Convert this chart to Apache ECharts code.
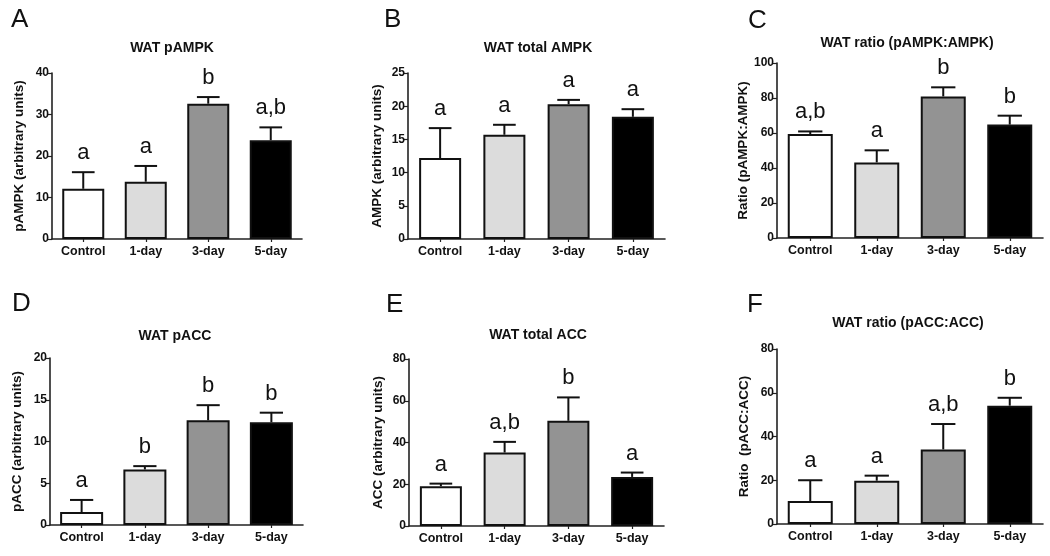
<!DOCTYPE html>
<html>
<head>
<meta charset="utf-8">
<script src="https://cdn.jsdelivr.net/npm/echarts@6/dist/echarts.min.js"></script>
<style>
html,body{margin:0;padding:0;background:#fff;}
#chart{width:1050px;height:556px;}
</style>
</head>
<body>
<div id="chart"></div>
<script>
// ---------- data ----------
const categories = ['Control', '1-day', '3-day', '5-day'];
const barColors = ['#ffffff', '#dcdcdc', '#939393', '#000000'];

const panelLetters = ['A', 'B', 'C', 'D', 'E', 'F'];
const panelTitles = ['WAT pAMPK', 'WAT total AMPK', 'WAT ratio (pAMPK:AMPK)',
                     'WAT pACC', 'WAT total ACC', 'WAT ratio (pACC:ACC)'];
const yNames = ['pAMPK (arbitrary units)', 'AMPK (arbitrary units)', 'Ratio (pAMPK:AMPK)',
                'pACC (arbitrary units)', 'ACC (arbitrary units)', 'Ratio  (pACC:ACC)'];
const yMax = [40, 25, 100, 20, 80, 80];
const yStep = [10, 5, 20, 5, 20, 20];

const pampkMean = [12.1, 13.8, 32.6, 23.8];
const pampkErr  = [4.0, 3.8, 1.6, 3.1];
const pampkSig  = ['a', 'a', 'b', 'a,b'];

const ampkMean = [12.2, 15.7, 20.3, 18.4];
const ampkErr  = [4.5, 1.5, 0.65, 1.15];
const ampkSig  = ['a', 'a', 'a', 'a'];

const ampkRatioMean = [59.4, 43.2, 80.9, 64.8];
const ampkRatioErr  = [1.5, 6.9, 5.2, 5.1];
const ampkRatioSig  = ['a,b', 'a', 'b', 'b'];

const paccMean = [1.55, 6.65, 12.55, 12.3];
const paccErr  = [1.45, 0.4, 1.8, 1.15];
const paccSig  = ['a', 'b', 'b', 'b'];

const accMean = [19.1, 35.2, 50.4, 23.5];
const accErr  = [1.2, 5.1, 11.2, 2.1];
const accSig  = ['a', 'a,b', 'b', 'a'];

const accRatioMean = [10.5, 19.8, 34.1, 54.1];
const accRatioErr  = [9.5, 2.3, 11.6, 3.6];
const accRatioSig  = ['a', 'a', 'a,b', 'b'];

const means = [pampkMean, ampkMean, ampkRatioMean, paccMean, accMean, accRatioMean];
const errs  = [pampkErr, ampkErr, ampkRatioErr, paccErr, accErr, accRatioErr];
const sigs  = [pampkSig, ampkSig, ampkRatioSig, paccSig, accSig, accRatioSig];

// ---------- layout ----------
const grids = [
  {left: 52,  top: 73,  width: 250, height: 166},
  {left: 408, top: 73,  width: 257, height: 166},
  {left: 777, top: 63,  width: 266, height: 175},
  {left: 50,  top: 358, width: 253, height: 167},
  {left: 409, top: 359, width: 255, height: 167},
  {left: 777, top: 349, width: 266, height: 175}
];
const barWidths = [42, 42, 45, 43, 42, 45];
const nameGaps = [26, 24, 26, 26, 24, 26];
const titlePos = [[172, 48], [538, 48], [907, 43], [175, 336], [538, 335], [908, 323]];
const letterPos = [[11, 20], [384, 20], [748, 21], [12, 304], [386, 305], [747, 305]];

const FONT = "'Liberation Sans', Arial, sans-serif";
const AX = '#222';

const chart = echarts.init(document.getElementById('chart'), null, {renderer: 'canvas'});

const option = {
  animation: false,
  backgroundColor: '#ffffff',
  grid: grids.map(g => Object.assign({containLabel: false}, g)),
  xAxis: grids.map((g, i) => ({
    type: 'category',
    gridIndex: i,
    data: categories,
    axisLine: {show: true, lineStyle: {color: AX, width: 1.6}},
    axisTick: {show: true, alignWithLabel: true, length: 3, lineStyle: {color: AX, width: 1.2}},
    axisLabel: {color: '#111', fontFamily: FONT, fontWeight: 'bold', fontSize: 12.5, margin: 6, interval: 0},
    splitLine: {show: false}
  })),
  yAxis: grids.map((g, i) => ({
    type: 'value',
    gridIndex: i,
    min: 0,
    max: yMax[i],
    interval: yStep[i],
    name: yNames[i],
    nameLocation: 'middle',
    nameRotate: 90,
    nameGap: nameGaps[i],
    nameTextStyle: {color: '#111', fontFamily: FONT, fontWeight: 'bold', fontSize: 13.5},
    axisLine: {show: true, lineStyle: {color: AX, width: 1.6}},
    axisTick: {show: true, length: 4, lineStyle: {color: AX, width: 1.2}},
    axisLabel: {color: '#111', fontFamily: FONT, fontWeight: 'bold', fontSize: 12, margin: 3},
    splitLine: {show: false}
  })),
  graphic: [].concat(
    panelTitles.map((t, i) => ({
      type: 'text', x: titlePos[i][0], y: titlePos[i][1],
      style: {text: t, font: 'bold 14px ' + FONT, fill: '#111', textAlign: 'center', textVerticalAlign: 'middle'}
    })),
    panelLetters.map((t, i) => ({
      type: 'text', x: letterPos[i][0], y: letterPos[i][1],
      style: {text: t, font: '26px ' + FONT, fill: '#111', textAlign: 'left', textVerticalAlign: 'middle'}
    }))
  ),
  series: []
};

means.forEach((m, p) => {
  option.series.push({
    type: 'bar',
    xAxisIndex: p, yAxisIndex: p,
    barWidth: barWidths[p],
    data: m.map((v, k) => ({
      value: v,
      itemStyle: {color: barColors[k], borderColor: '#111', borderWidth: 2}
    })),
    z: 2
  });
  option.series.push({
    type: 'custom',
    xAxisIndex: p, yAxisIndex: p,
    clip: false,
    z: 3,
    data: m.map((v, k) => [k, v, errs[p][k]]),
    encode: {x: 0, y: 1},
    renderItem: function (params, api) {
      const k = api.value(0);
      const mean = api.value(1);
      const top = mean + api.value(2);
      const base = api.coord([k, mean]);
      const tip = api.coord([k, top]);
      const half = barWidths[p] * 0.27;
      return {
        type: 'group',
        children: [
          {type: 'line', shape: {x1: base[0], y1: base[1], x2: tip[0], y2: tip[1]},
           style: {stroke: '#111', lineWidth: 2}},
          {type: 'line', shape: {x1: tip[0] - half, y1: tip[1], x2: tip[0] + half, y2: tip[1]},
           style: {stroke: '#111', lineWidth: 2}},
          {type: 'text', x: tip[0], y: tip[1] - 8,
           style: {text: sigs[p][params.dataIndex], font: '22px ' + FONT, fill: '#111',
                   textAlign: 'center', textVerticalAlign: 'bottom'}}
        ]
      };
    }
  });
});

chart.setOption(option);
</script>
</body>
</html>
